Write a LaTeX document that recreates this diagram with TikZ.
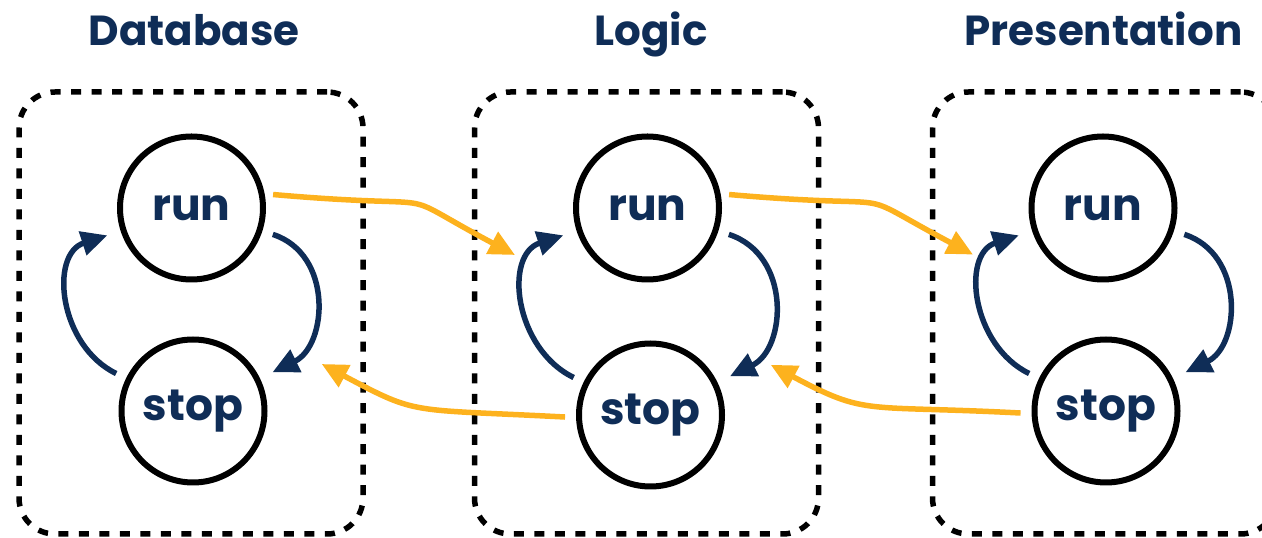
\documentclass[tikz,border=0pt]{standalone}
\usepackage{fontspec}
\setmainfont{Poppins}
\usetikzlibrary{arrows.meta}
\definecolor{navy}{RGB}{15,45,87}
\definecolor{gold}{RGB}{253,178,30}
\begin{document}
\begin{tikzpicture}[x=1pt,y=1pt,
  state/.style={circle,draw=black,line width=6pt,minimum size=143pt,inner sep=0pt,text=navy,font=\fontsize{44}{50}\selectfont\bfseries},
  lanetitle/.style={anchor=base,text=navy,inner sep=0pt,font=\fontsize{42}{50}\selectfont\bfseries},
  lane/.style={draw=black,line width=5.5pt,dash pattern=on 10pt off 10.5pt,rounded corners=36pt,minimum width=344pt,minimum height=442pt,inner sep=0pt},
  loopedge/.style={draw=navy,line width=5.5pt,-{Triangle[length=26pt,width=24pt]},shorten <=11pt,shorten >=14pt,looseness=1.3},
  flow/.style={draw=gold,line width=5.5pt,-{Triangle[length=26pt,width=24pt]}}]
\useasboundingbox (0,0) rectangle (1262,538);
% lanes
\node[lane] (box1) at (191,225) {};
\node[lane] (box2) at (646.5,225) {};
\node[lane] (box3) at (1104.5,225) {};
% titles
\node[lanetitle] (t1) at (194,492) {Database};
\node[lanetitle] (t2) at (651,492) {Logic};
\node[lanetitle] (t3) at (1103.5,492) {Presentation};
% states
\node[state] (r1) at (191.5,330) {run};
\node[state] (s1) at (193,127) {stop};
\node[state] (r2) at (647.5,330) {run};
\node[state] (s2) at (650.5,123) {stop};
\node[state] (r3) at (1103,330) {run};
\node[state] (s3) at (1106,127) {stop};
% free ends of the cross-lane arrows
\coordinate (t12) at (515,283);
\coordinate (t21) at (321.7,174);
\coordinate (t23) at (973,283.4);
\coordinate (t32) at (770.7,173.2);
% loops inside each lane
\foreach \r/\s in {r1/s1,r2/s2,r3/s3}{
  \draw[loopedge] (\r.-18) to[out=-18,in=26] (\s.26);
  \draw[loopedge] (\s.154) to[out=154,in=198] (\r.198);
}
% cross-lane arrows
\draw[flow,shorten <=8.5pt] (r1.11) to[out=-5,in=152,out distance=200pt,in distance=150pt] (t12);
\draw[flow,shorten <=8.5pt] (r2.11) to[out=-5,in=152,out distance=200pt,in distance=150pt] (t23);
\draw[flow,shorten <=11pt] (s2.182) to[out=177,in=-28,out distance=170pt,in distance=110pt] (t21);
\draw[flow,shorten <=11pt] (s3.182) to[out=177,in=-28,out distance=170pt,in distance=110pt] (t32);
\end{tikzpicture}
\end{document}
